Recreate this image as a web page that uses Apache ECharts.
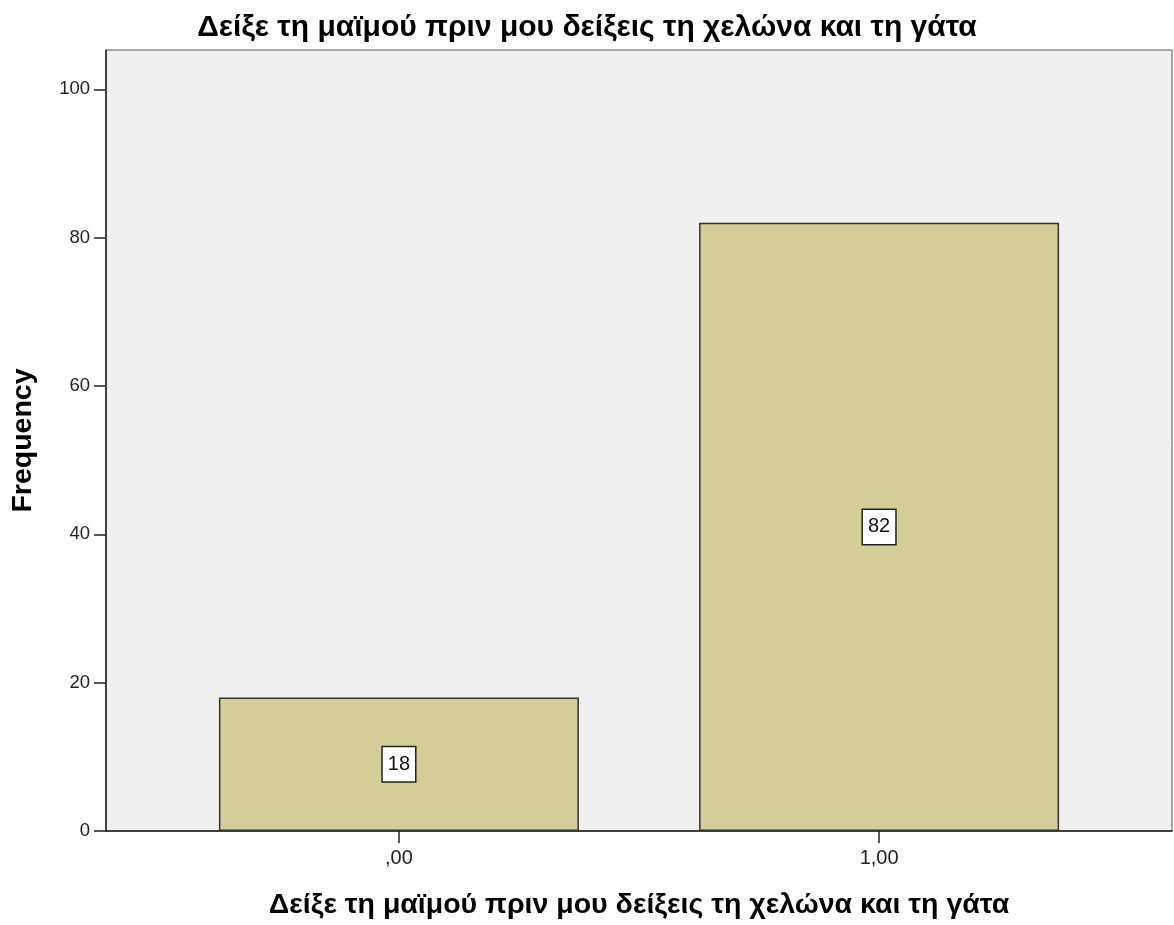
<!DOCTYPE html>
<html lang="el">
<head>
    <meta charset="UTF-8">
    <title>Frequency</title>
    <style>
        html, body { margin: 0; padding: 0; background: #fff; }
        #chart { width: 1174px; height: 925px; }
    </style>
</head>
<body>
<div id="chart"></div>
<script src="https://cdn.jsdelivr.net/npm/echarts@6/dist/echarts.min.js"></script>
<script>
    // data
    const titleText = 'Δείξε τη μαϊμού πριν μου δείξεις τη χελώνα και τη γάτα';
    const categories = [',00', '1,00'];
    const frequencies = [18, 82];
    const yTicks = [0, 20, 40, 60, 80, 100];

    const font = '"Liberation Sans", Arial, sans-serif';

    // bars sit on positions 0 and 1 of a value axis, so the gaps match the picture
    const barData = frequencies.map((v, i) => [i, v]);

    let myChart = echarts.init(document.getElementById('chart'));
    let option = {
        animation: false,
        textStyle: { fontFamily: font },
        title: {
            text: titleText,
            left: 'center',
            top: 8,
            textStyle: { fontSize: 30, fontWeight: 'bold', color: '#000', fontFamily: font }
        },
        grid: {
            left: 106, right: 2, top: 50, bottom: 93,
            show: true,
            backgroundColor: '#f0f0f0',
            borderColor: '#555',
            borderWidth: 1
        },
        xAxis: {
            type: 'value',
            min: -0.61,
            max: 1.61,
            name: titleText,
            nameLocation: 'middle',
            nameGap: 60,
            nameTextStyle: { fontSize: 28.5, fontWeight: 'bold', color: '#000' },
            splitLine: { show: false },
            axisLine: { show: true, onZero: false, lineStyle: { color: '#222', width: 1.5 } },
            axisTick: { show: true, length: 12, customValues: [0, 1], lineStyle: { color: '#222', width: 1.5 } },
            axisLabel: {
                customValues: [0, 1],
                margin: 17,
                fontSize: 20,
                color: '#222',
                formatter: v => categories[Math.round(v)]
            }
        },
        yAxis: {
            type: 'value',
            min: 0,
            max: 105.3,
            name: 'Frequency',
            nameLocation: 'middle',
            nameGap: 68,
            nameTextStyle: { fontSize: 28.5, fontWeight: 'bold', color: '#000' },
            splitLine: { show: false },
            axisLine: { show: true, onZero: false, lineStyle: { color: '#222', width: 1.5 } },
            axisTick: { show: true, length: 12, customValues: yTicks, lineStyle: { color: '#222', width: 1.5 } },
            axisLabel: {
                customValues: yTicks,
                margin: 16,
                fontSize: 18.5,
                color: '#222'
            }
        },
        series: [
            {
                type: 'bar',
                data: barData,
                barWidth: 360,
                itemStyle: { color: '#d3ce98', borderColor: '#333', borderWidth: 1.5 },
                label: {
                    show: true,
                    position: 'inside',
                    formatter: p => p.value[1],
                    fontSize: 20,
                    color: '#111',
                    backgroundColor: '#fff',
                    borderColor: '#222',
                    borderWidth: 1.5,
                    padding: [8, 5, 6, 5]
                }
            }
        ]
    };
    myChart.setOption(option);
</script>
</body>
</html>
